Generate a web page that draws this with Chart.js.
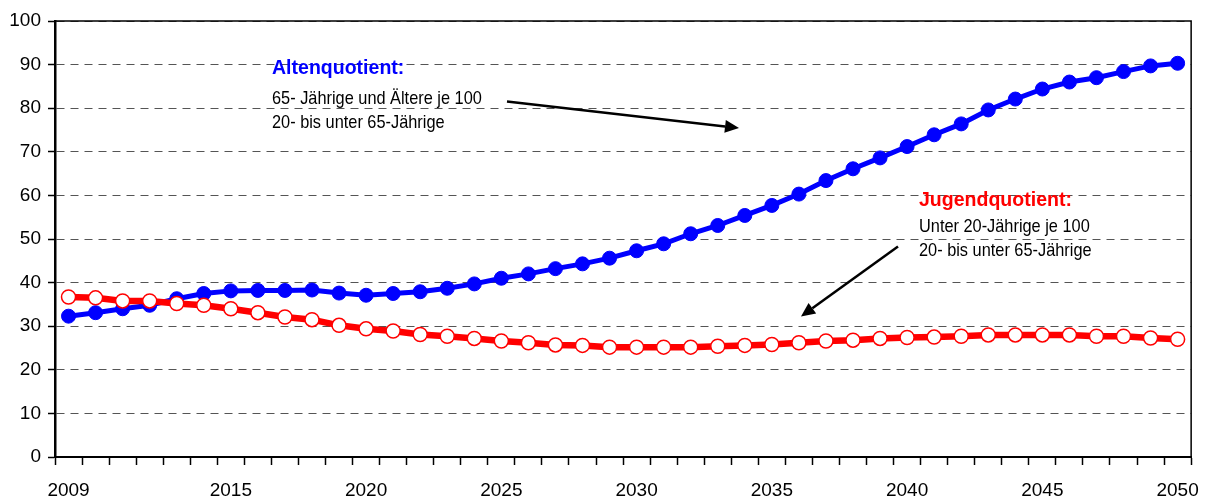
<!DOCTYPE html>
<html><head><meta charset="utf-8">
<script src="https://cdn.jsdelivr.net/npm/chart.js@4"></script>
<style>html,body{margin:0;padding:0;background:#fff}#wrap{width:1213px;height:503px}</style>
</head><body><div id="wrap"><canvas id="c" width="1213" height="503"></canvas></div>
<script>
const years = [2009,2010,2011,2012,2013,2014,2015,2016,2017,2018,2019,2020,2021,2022,2023,2024,2025,2026,2027,2028,2029,2030,2031,2032,2033,2034,2035,2036,2037,2038,2039,2040,2041,2042,2043,2044,2045,2046,2047,2048,2049,2050];
const tickYears = [2009,2015,2020,2025,2030,2035,2040,2045,2050];
const yTicks = [0,10,20,30,40,50,60,70,80,90,100];
const altenquotient = [32.3,33.1,34.0,34.8,36.3,37.5,38.1,38.2,38.2,38.3,37.6,37.1,37.5,37.9,38.7,39.7,41.0,42.0,43.2,44.3,45.6,47.3,48.9,51.2,53.1,55.4,57.7,60.3,63.4,66.1,68.6,71.2,73.9,76.4,79.6,82.1,84.4,86.0,87.0,88.4,89.7,90.3];
const jugendquotient = [36.7,36.5,35.8,35.8,35.2,34.8,34.0,33.1,32.1,31.5,30.2,29.4,28.9,28.1,27.7,27.2,26.6,26.2,25.7,25.6,25.2,25.2,25.2,25.2,25.4,25.6,25.8,26.2,26.6,26.8,27.2,27.4,27.5,27.7,28.0,28.0,28.0,28.0,27.7,27.7,27.3,27.0];

const FONT = '"Liberation Sans", Arial, sans-serif';

function arrow(ctx, x1, y1, x2, y2) {
  const ang = Math.atan2(y2 - y1, x2 - x1);
  const L = 14, W = 6.5;
  const bx = x2 - L * Math.cos(ang), by = y2 - L * Math.sin(ang);
  ctx.save();
  ctx.strokeStyle = '#000'; ctx.fillStyle = '#000'; ctx.lineWidth = 2.5;
  ctx.beginPath(); ctx.moveTo(x1, y1); ctx.lineTo(bx, by); ctx.stroke();
  ctx.beginPath();
  ctx.moveTo(x2, y2);
  ctx.lineTo(bx + W * Math.sin(ang), by - W * Math.cos(ang));
  ctx.lineTo(bx - W * Math.sin(ang), by + W * Math.cos(ang));
  ctx.closePath(); ctx.fill();
  ctx.restore();
}

function narrowText(ctx, text, x, y, font, color, sx) {
  ctx.save();
  ctx.font = font; ctx.fillStyle = color;
  ctx.textBaseline = 'alphabetic'; ctx.textAlign = 'left';
  ctx.translate(x, y); ctx.scale(sx, 1);
  ctx.fillText(text, 0, 0);
  ctx.restore();
}

const framePlugin = {
  id: 'frame',
  beforeDatasetsDraw(chart) {
    const {ctx, chartArea: a} = chart;
    ctx.save();
    ctx.strokeStyle = '#000'; ctx.lineWidth = 1.5;
    ctx.beginPath();
    ctx.moveTo(a.left, a.top); ctx.lineTo(a.right, a.top); ctx.lineTo(a.right, a.bottom);
    ctx.stroke();
    ctx.restore();
  }
};

const notesPlugin = {
  id: 'notes',
  afterDraw(chart) {
    const ctx = chart.ctx;
    narrowText(ctx, 'Altenquotient:', 272, 74, 'bold 21px ' + FONT, '#0000ff', 0.93);
    narrowText(ctx, '65- Jährige und Ältere je 100', 272, 104, '19px ' + FONT, '#000', 0.86);
    narrowText(ctx, '20- bis unter 65-Jährige', 272, 128, '19px ' + FONT, '#000', 0.86);
    narrowText(ctx, 'Jugendquotient:', 919, 206, 'bold 21px ' + FONT, '#ff0000', 0.93);
    narrowText(ctx, 'Unter 20-Jährige je 100', 919, 232, '19px ' + FONT, '#000', 0.86);
    narrowText(ctx, '20- bis unter 65-Jährige', 919, 256, '19px ' + FONT, '#000', 0.86);
    arrow(ctx, 507, 101.5, 739, 128);
    arrow(ctx, 898, 246.5, 801, 316.5);
  }
};

new Chart(document.getElementById('c'), {
  type: 'line',
  data: {
    labels: years.map(String),
    datasets: [
      {
        label: 'Jugendquotient',
        data: jugendquotient,
        borderColor: '#ff0000', borderWidth: 6.5,
        pointBackgroundColor: '#ffffff', pointBorderColor: '#ff0000', pointBorderWidth: 1.5,
        pointRadius: 7, tension: 0, order: 0
      },
      {
        label: 'Altenquotient',
        data: altenquotient,
        borderColor: '#0000ff', borderWidth: 5,
        pointBackgroundColor: '#0000ff', pointBorderColor: '#0000ff', pointBorderWidth: 1,
        pointRadius: 7, tension: 0, order: 1
      }
    ]
  },
  options: {
    responsive: false, animation: false, devicePixelRatio: 1,
    layout: { padding: { top: 21, right: 21, left: 0, bottom: 0 } },
    plugins: { legend: { display: false }, tooltip: { enabled: false } },
    scales: {
      x: {
        type: 'category', offset: true,
        grid: { offset: true, drawOnChartArea: false, drawTicks: true, tickLength: 8, tickColor: '#000', tickWidth: 1.5 },
        border: { display: true, color: '#000', width: 2 },
        ticks: {
          autoSkip: false, maxRotation: 0, minRotation: 0, padding: 14, color: '#000',
          font: { family: FONT, size: 19 },
          callback: function (v, i) { return tickYears.includes(years[i]) ? String(years[i]) : ''; }
        },
        afterFit(s) { s.height = 46; }
      },
      y: {
        min: 0, max: 100,
        afterBuildTicks(s) { s.ticks = yTicks.map(v => ({ value: v })); },
        grid: { color: '#555', lineWidth: 1, tickLength: 7, tickColor: '#000', tickWidth: 1.5 },
        border: { display: true, color: '#000', width: 2.5, dash: [8, 6] },
        ticks: { color: '#000', padding: 7, font: { family: FONT, size: 19 } },
        afterFit(s) { s.width = 55; }
      }
    }
  },
  plugins: [framePlugin, notesPlugin]
});
</script></body></html>
